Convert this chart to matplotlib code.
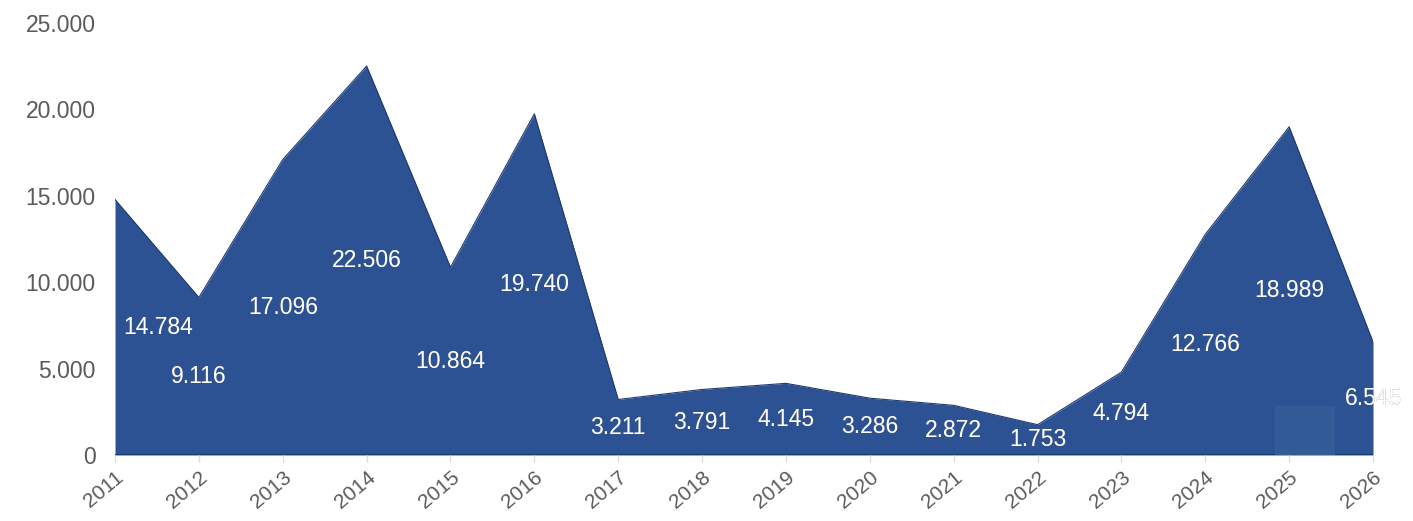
import matplotlib
matplotlib.use("Agg")
import matplotlib.pyplot as plt
from matplotlib.patches import Rectangle
from matplotlib.ticker import FuncFormatter

plt.rcParams['font.family'] = ['Liberation Sans', 'DejaVu Sans']

years = list(range(2011, 2027))
values = [14784, 9116, 17096, 22506, 10864, 19740, 3211, 3791,
          4145, 3286, 2872, 1753, 4794, 12766, 18989, 6545]
labels = ['14.784', '9.116', '17.096', '22.506', '10.864', '19.740', '3.211', '3.791',
          '4.145', '3.286', '2.872', '1.753', '4.794', '12.766', '18.989', '6.545']

fill_color = '#2c5293'
edge_color = '#1e3a70'

fig = plt.figure(figsize=(14.13, 5.21), dpi=100)
ax = fig.add_axes([0.0814, 0.1267, 0.8903, 0.8293])

area = ax.fill_between(years, values, 0, color=fill_color, linewidth=0)
ax.plot(years, values, color=edge_color, linewidth=0.8)
ax.axhline(0, color=edge_color, linewidth=1.5)

# faint lighter block left over near the 2025 foot
ax.add_patch(Rectangle((2024.83, 0), 0.72, 2840, color='#335b98', linewidth=0, zorder=2))

ax.set_xlim(2011, 2026)
ax.set_ylim(0, 25000)
ax.set_yticks(range(0, 25001, 5000))
ax.yaxis.set_major_formatter(FuncFormatter(lambda v, p: '0' if v == 0 else f'{int(v):,}'.replace(',', '.')))
ax.set_xticks(years)
ax.set_xticklabels([str(y) for y in years], rotation=40, ha='right', rotation_mode='anchor')

for side in ['top', 'right', 'left', 'bottom']:
    ax.spines[side].set_visible(False)
ax.tick_params(axis='y', length=0, pad=14, labelsize=16.5, labelcolor='#5a5a5a')
ax.tick_params(axis='x', length=5, width=1, color='#dddddd', pad=4, labelsize=15, labelcolor='#5a5a5a')

# value labels sit halfway up each point; part outside the area shows grey
clip = area.get_paths()[0]
for i, (x, v, t) in enumerate(zip(years, values, labels)):
    if i == 0:
        x, ha = x + 0.1, 'left'
    else:
        ha = 'center'
    ax.text(x, v / 2, t, ha=ha, va='center', fontsize=16.5, color='#6a6a6a', zorder=3)
    txt = ax.text(x, v / 2, t, ha=ha, va='center', fontsize=16.5, color='white', zorder=4)
    txt.set_clip_path(clip, ax.transData)

fig.savefig('out.png', dpi=100, facecolor='white')
